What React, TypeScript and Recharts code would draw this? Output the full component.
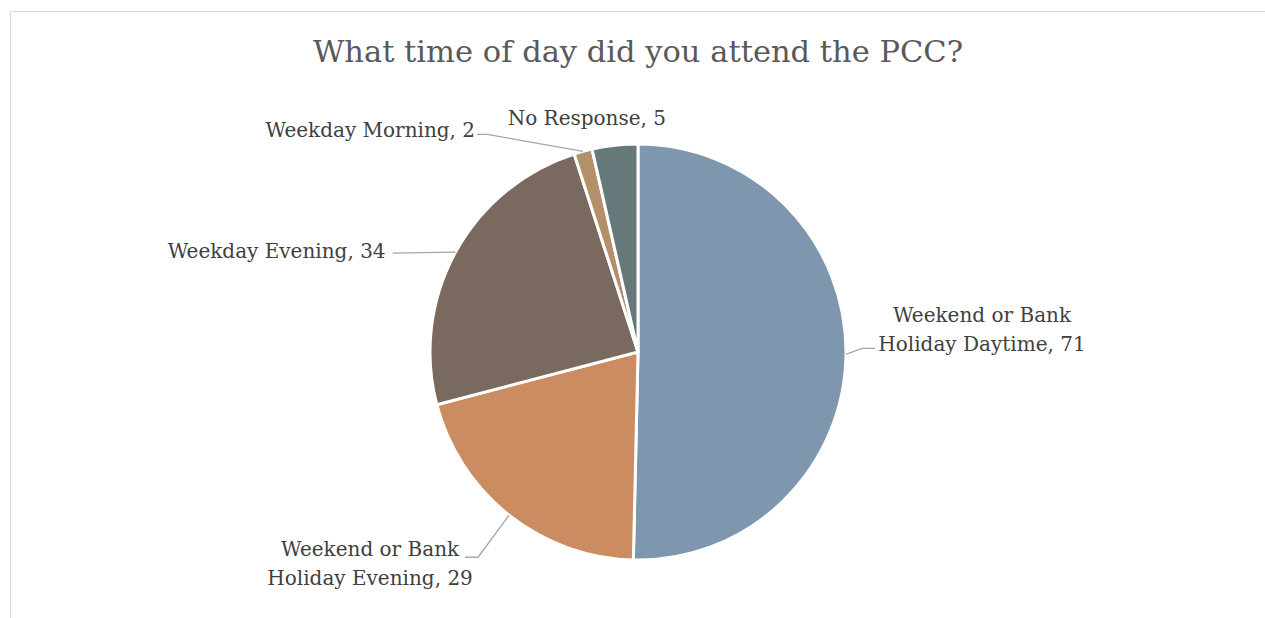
import React from "react";
import { PieChart, Pie, Cell } from "recharts";

// Pie "What time of day did you attend the PCC?" — estilo Excel/Word:
// tajadas con borde blanco, etiquetas con línea guía gris.
const CATEGORIES = [
  "Weekend or Bank Holiday Daytime",
  "Weekend or Bank Holiday Evening",
  "Weekday Evening",
  "Weekday Morning",
  "No Response",
];
const VALUES = [71, 29, 34, 2, 5];
const LABEL_LINES = [
  ["Weekend or Bank", "Holiday Daytime, 71"],
  ["Weekend or Bank", "Holiday Evening, 29"],
  ["Weekday Evening, 34"],
  ["Weekday Morning, 2"],
  ["No Response, 5"],
];
const COLORS = ["#7F97AE", "#CB8C61", "#7A695E", "#B39069", "#66797A"];

const W = 1265;
const H = 618;
const FONT = '"DejaVu Serif", "Liberation Serif", serif';
const RAD = Math.PI / 180;

// offsets relative to the slice's outer edge point: elbow, end of leader, text pos
const LAYOUT = [
  { elbow: [16, -6], end: [29, -6], text: [136, -32], anchor: "middle" },
  { elbow: [-31, 42], end: [-44, 42], text: [-139, 41], anchor: "middle" },
  { elbow: [-63, 1], end: [-63, 1], text: [-70, 6], anchor: "end" },
  { elbow: [-96, -17], end: [-106, -17], text: [-108, -14], anchor: "end" },
  { elbow: null, end: null, text: [-28, -20], anchor: "middle" },
] as const;

const data = CATEGORIES.map((name, i) => ({ name, value: VALUES[i] }));

function SliceLabel(props: any) {
  const { cx, cy, midAngle, outerRadius, index } = props;
  const ex = cx + outerRadius * Math.cos(-midAngle * RAD);
  const ey = cy + outerRadius * Math.sin(-midAngle * RAD);
  const L = LAYOUT[index];
  const lines = LABEL_LINES[index];
  return (
    <g>
      {L.elbow && L.end && (
        <polyline
          points={`${ex},${ey} ${ex + L.elbow[0]},${ey + L.elbow[1]} ${ex + L.end[0]},${ey + L.end[1]}`}
          fill="none"
          stroke="#A6A6A6"
          strokeWidth={1.3}
        />
      )}
      <text
        x={ex + L.text[0]}
        y={ey + L.text[1]}
        textAnchor={L.anchor}
        fill="#404040"
        fontFamily={FONT}
        fontSize={20}
      >
        {lines.map((t, k) => (
          <tspan key={k} x={ex + L.text[0]} dy={k === 0 ? 0 : 29}>
            {t}
          </tspan>
        ))}
      </text>
    </g>
  );
}

export default function App() {
  return (
    <div
      style={{
        position: "fixed",
        left: 0,
        top: 0,
        width: W,
        height: H,
        background: "#fff",
        overflow: "hidden",
      }}
    >
      <div
        style={{
          position: "absolute",
          left: 10,
          top: 11,
          width: 1400,
          height: 800,
          border: "1.5px solid #D9D9D9",
        }}
      />
      <div
        style={{
          position: "absolute",
          left: 0,
          top: 30,
          width: 1276,
          textAlign: "center",
          fontFamily: FONT,
          fontSize: 30.5,
          color: "#595959",
          lineHeight: "44px",
        }}
      >
        What time of day did you attend the PCC?
      </div>
      <div style={{ position: "absolute", left: 0, top: 0 }}>
        <PieChart width={W} height={H} margin={{ top: 0, right: 0, bottom: 0, left: 0 }}>
          <Pie
            data={data}
            dataKey="value"
            nameKey="name"
            cx={638}
            cy={352}
            outerRadius={208}
            startAngle={90}
            endAngle={-270}
            stroke="#FFFFFF"
            strokeWidth={3}
            label={SliceLabel}
            labelLine={false}
            isAnimationActive={false}
          >
            {data.map((d, i) => (
              <Cell key={d.name} fill={COLORS[i]} />
            ))}
          </Pie>
        </PieChart>
      </div>
    </div>
  );
}
